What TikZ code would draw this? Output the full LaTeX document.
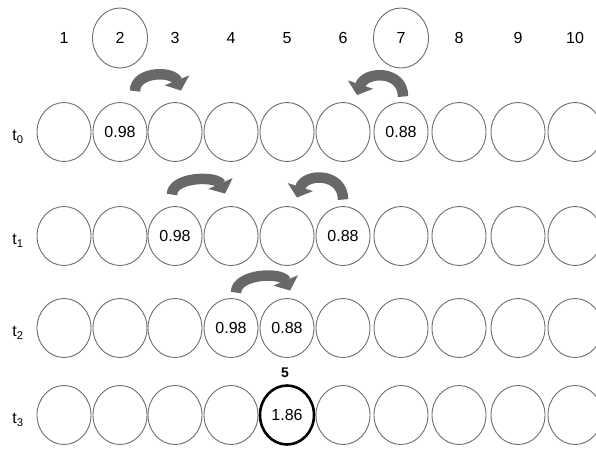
\documentclass[tikz,border=0pt]{standalone}
\usepackage{fontspec}
\setmainfont{Liberation Sans}
\usetikzlibrary{
  arrows.meta,
  shapes.geometric,
  calc
}
\definecolor{CellGray}{HTML}{6E6E6E}
\definecolor{TurnGray}{HTML}{686868}

\begin{document}
\begin{tikzpicture}[
      x=1pt, y=-1pt,
      font=\fontsize{16}{19}\selectfont,
      cell/.style={
        ellipse, draw=CellGray, line width=0.9pt,
        minimum width=54pt, minimum height=59pt, inner sep=0pt
      },
      headcell/.style={
        ellipse, draw=CellGray, line width=0.9pt,
        minimum width=55pt, minimum height=60pt, inner sep=0pt
      },
      sumcell/.style={cell, draw=black, line width=2.6pt},
      rowlbl/.style={anchor=center, inner sep=1pt},
      turnarr/.style={draw=TurnGray, line width=10.5pt,
        -{Triangle[width=26pt,length=11pt]}}
    ]
    \useasboundingbox (0,0) rectangle (596,448);

    % Header: cell numbers
    \foreach \x [count=\i] in {64,120,175,231,287,343,401,459,518,575}
      \node (h\i) at (\x,38) {\i};
    \node[headcell] at (h2) {};
    \node[headcell] at (h7) {};

    % Rows t0..t3
    \foreach \y [count=\j from 0] in {132,236,328,415} {
      \node[rowlbl] (t\j) at (18,\y+5) {t\textsubscript{\j}};
      \foreach \x [count=\i] in {64,120,175,231,287,343,401,459,518,575}
        \node[cell] (r\j-\i) at (\x,\y) {};
    }

    % Values
    \node at (r0-2) {0.98};
    \node at (r0-7) {0.88};
    \node at (r1-3) {0.98};
    \node at (r1-6) {0.88};
    \node at (r2-4) {0.98};
    \node at (r2-5) {0.88};
    \node[sumcell] (sum) at (r3-5) {1.86};
    \node[font=\fontsize{14}{16}\selectfont\bfseries, above=0pt] at ($(sum.north)+(-2,-3)$) {5};

    % Moves
    \draw[turnarr] ($(r0-2.north)+(15,-11)$)
      .. controls +(0,-20) and +(-8,-20) .. ($(r0-3.north)+(6,-11.5)$);
    \draw[turnarr] ($(r0-7.north)+(2,-5.5)$)
      .. controls +(0,-27) and +(8,-24) .. ($(r0-6.north)+(14,-7)$);
    \draw[turnarr] ($(r1-3.north)+(-3,-11.5)$)
      .. controls +(0,-18) and +(-8,-18) .. ($(r1-4.north)+(-6,-12.5)$);
    \draw[turnarr] ($(r1-6.north)+(0,-6.5)$)
      .. controls +(0,-27) and +(8,-25) .. ($(r1-5.north)+(10,-8.5)$);
    \draw[turnarr] ($(r2-4.north)+(5,-5.5)$)
      .. controls +(0,-19) and +(-8,-19) .. ($(r2-5.north)+(3,-7.5)$);
  \end{tikzpicture}
\end{document}
